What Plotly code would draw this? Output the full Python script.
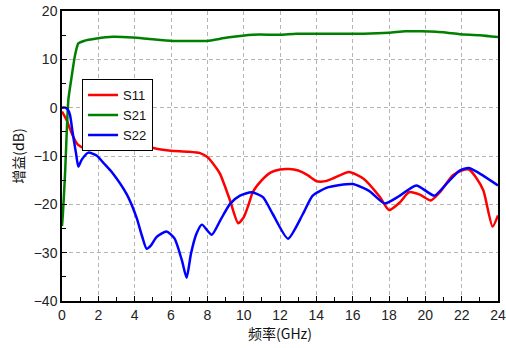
import plotly.graph_objects as go

s11_f = [0, 0.26, 0.5, 0.8, 1.0, 1.36, 1.9, 2.5, 3.0, 3.9, 4.6, 5.2, 6.0, 6.9, 7.6, 8.0, 8.3, 8.7, 9.25, 9.7, 10.0, 10.25, 10.5, 11.0, 11.5, 12.0, 12.5, 13.0, 13.5, 14.0, 14.5, 15.0, 15.8, 16.6, 17.5, 18.0, 18.6, 19.1, 19.7, 20.3, 20.8, 21.5, 22.0, 22.4, 22.8, 23.2, 23.7, 24.0]
s11_db = [-0.8, -2.6, -5.0, -7.3, -8.0, -8.6, -8.55, -8.1, -7.7, -7.5, -7.9, -8.5, -8.9, -9.1, -9.4, -10.2, -11.5, -13.7, -19.2, -23.9, -22.7, -20.3, -17.5, -15.0, -13.4, -12.8, -12.7, -13.0, -13.9, -15.2, -15.2, -14.5, -13.3, -14.7, -18.5, -21.2, -19.6, -17.5, -18.0, -19.2, -17.5, -14.0, -13.0, -12.8, -14.5, -17.2, -24.6, -22.3]

s21_f = [0, 0.05, 0.17, 0.35, 0.53, 0.72, 0.9, 1.2, 1.9, 2.8, 3.9, 4.8, 6.1, 7.0, 7.96, 9.1, 10.5, 12.0, 12.9, 14.2, 15.5, 16.6, 18.0, 18.9, 19.8, 20.6, 21.2, 21.9, 23.0, 24.0]
s21_db = [-24.5, -22.0, -13.5, 1.6, 6.4, 10.9, 13.3, 13.8, 14.3, 14.65, 14.5, 14.2, 13.8, 13.8, 13.8, 14.5, 15.1, 15.1, 15.3, 15.3, 15.3, 15.3, 15.5, 15.8, 15.8, 15.7, 15.5, 15.2, 15.0, 14.6]

s22_f = [0, 0.17, 0.3, 0.44, 0.59, 0.77, 0.9, 1.08, 1.45, 1.9, 2.3, 2.8, 3.56, 4.1, 4.4, 4.66, 4.9, 5.2, 5.76, 6.2, 6.6, 6.86, 7.1, 7.4, 7.7, 8.24, 8.7, 9.25, 9.8, 10.44, 11.06, 11.6, 12.44, 13.26, 13.8, 14.55, 15.3, 16.0, 16.9, 17.76, 18.6, 19.5, 20.5, 21.15, 21.9, 22.4, 23.2, 24.0]
s22_db = [0, 0, -0.3, -1.5, -5.3, -9.4, -12.2, -10.8, -9.3, -9.9, -11.5, -13.6, -17.9, -22.7, -26.5, -29.2, -28.5, -26.8, -25.6, -27.1, -31.6, -35.2, -30.2, -26.1, -24.2, -26.3, -23.4, -19.9, -18.2, -17.5, -18.5, -22.0, -27.1, -22.0, -18.2, -16.6, -16.0, -15.8, -17.2, -19.8, -18.2, -16.1, -18.2, -15.8, -13.0, -12.5, -14.1, -16.1]

x_ticks = [0, 2, 4, 6, 8, 10, 12, 14, 16, 18, 20, 22, 24]
y_ticks = [-40, -30, -20, -10, 0, 10, 20]

fig = go.Figure()
for name, f, v, c in [("S11", s11_f, s11_db, "#ff0000"),
                      ("S21", s21_f, s21_db, "#008000"),
                      ("S22", s22_f, s22_db, "#0000ff")]:
    fig.add_trace(go.Scatter(x=f, y=v, mode="lines", name=name,
                             line=dict(color=c, width=2.5, shape="spline", smoothing=0.6)))

axis_common = dict(showline=True, linecolor="black", linewidth=1.5, mirror=True,
                   ticks="inside", ticklen=5, tickcolor="black", tickwidth=1,
                   showgrid=True, gridcolor="#b4b4b4", griddash="4px,3px", gridwidth=1,
                   zeroline=False, automargin=False,
                   tickfont=dict(family="Liberation Sans, Arial", size=14, color="#222"))

fig.update_xaxes(range=[0, 24], tickvals=x_ticks,
                 minor=dict(dtick=1, ticks="inside", ticklen=4, tickcolor="black", showgrid=False),
                 title=dict(text="频率(GHz)", font=dict(family="Noto Sans CJK SC", size=14, color="#111"), standoff=0),
                 **axis_common)
fig.update_yaxes(range=[-40, 20], tickvals=y_ticks,
                 minor=dict(dtick=5, ticks="inside", ticklen=4, tickcolor="black", showgrid=False),
                 title=dict(text="增益(dB)", font=dict(family="Noto Sans CJK SC", size=14, color="#111"), standoff=6),
                 **axis_common)

fig.update_layout(
    width=506, height=348,
    margin=dict(l=62, r=8, t=11, b=47),
    paper_bgcolor="white", plot_bgcolor="white",
    showlegend=True,
    legend=dict(x=0.046, y=0.765, xanchor="left", yanchor="top",
                bgcolor="white", bordercolor="black", borderwidth=1,
                font=dict(family="Liberation Sans, Arial", size=13, color="#111"),
                itemwidth=30, tracegroupgap=0),
)

fig.write_html("out.html", config={"displayModeBar": False},
               post_script="document.body.style.margin='0';")
